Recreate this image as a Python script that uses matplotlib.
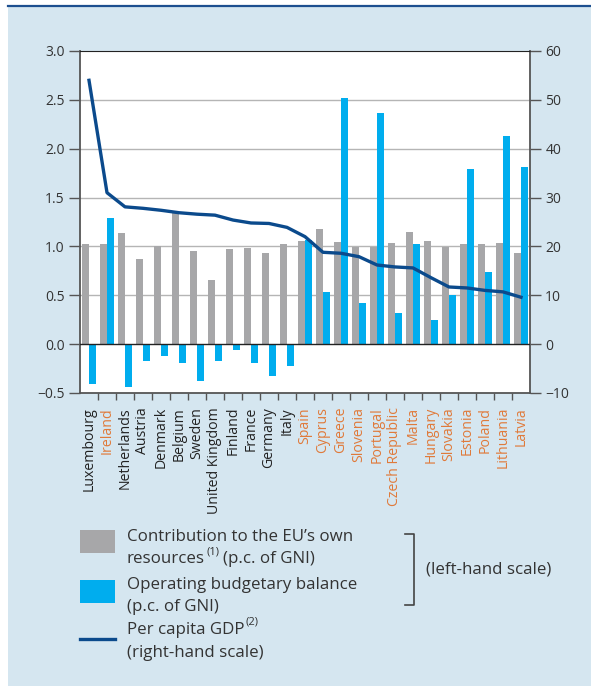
#!/usr/bin/env python3

import numpy as np
import matplotlib
matplotlib.use('Agg')
import matplotlib.pyplot as plt
from matplotlib.patches import Rectangle
from matplotlib.lines import Line2D

plt.rcParams['font.family'] = ['Open Sans', 'DejaVu Sans']

# data
countries = ['Luxembourg', 'Ireland', 'Netherlands', 'Austria', 'Denmark', 'Belgium',
             'Sweden', 'United Kingdom', 'Finland', 'France', 'Germany', 'Italy',
             'Spain', 'Cyprus', 'Greece', 'Slovenia', 'Portugal', 'Czech Republic',
             'Malta', 'Hungary', 'Slovakia', 'Estonia', 'Poland', 'Lithuania', 'Latvia']
contribution = [1.02, 1.02, 1.14, 0.87, 1.00, 1.34, 0.95, 0.66, 0.97, 0.98, 0.93, 1.02,
                1.06, 1.18, 1.05, 0.99, 0.99, 1.04, 1.15, 1.06, 0.99, 1.02, 1.02, 1.03, 0.93]
balance = [-0.41, 1.29, -0.44, -0.17, -0.12, -0.19, -0.38, -0.17, -0.06, -0.19, -0.33, -0.22,
           1.07, 0.53, 2.52, 0.42, 2.37, 0.32, 1.02, 0.25, 0.50, 1.79, 0.74, 2.13, 1.81]
gdp = [54.0, 31.0, 28.1, 27.8, 27.4, 26.9, 26.6, 26.4, 25.4, 24.8, 24.7, 23.9,
       22.0, 18.8, 18.6, 17.9, 16.2, 15.8, 15.6, 13.6, 11.7, 11.5, 11.0, 10.7, 9.6]
new_members = ['Ireland', 'Spain', 'Cyprus', 'Greece', 'Slovenia', 'Portugal',
               'Czech Republic', 'Malta', 'Hungary', 'Slovakia', 'Estonia', 'Poland',
               'Lithuania', 'Latvia']
left_ticks = [-0.5, 0.0, 0.5, 1.0, 1.5, 2.0, 2.5, 3.0]
right_ticks = [-10, 0, 10, 20, 30, 40, 50, 60]

GREY = '#a7a7a9'
BLUE = '#00adee'
NAVY = '#0b4a8c'
PANEL = '#d5e6f0'
ORANGE = '#e07a3a'
TXT = '#333333'
W, H = 591, 686

fig = plt.figure(figsize=(W / 100, H / 100), dpi=100)
fig.patch.set_facecolor('white')
# light blue panel with dark rule on top
fig.patches.append(Rectangle((8 / W, 0), 1 - 8 / W, 1 - 6 / H, transform=fig.transFigure,
                             facecolor=PANEL, edgecolor='none', zorder=-10))
fig.lines.append(Line2D([8 / W, 1], [1 - 6 / H, 1 - 6 / H], transform=fig.transFigure,
                        color='#1d4f8f', lw=1.6))

ax = fig.add_axes([80 / W, 1 - 393 / H, 450 / W, 342 / H])
ax.set_facecolor('white')
x = np.arange(len(countries))
bw = 0.39
ax.bar(x - bw / 2, contribution, bw, color=GREY, zorder=2)
ax.bar(x + bw / 2, balance, bw, color=BLUE, zorder=2)
ax.set_ylim(-0.5, 3.0)
ax.set_xlim(-0.5, len(countries) - 0.5)
ax.set_yticks(left_ticks)
ax.set_yticklabels([f'{v:.1f}'.replace('-', '\u2212') for v in left_ticks])
for v in left_ticks[2:-1]:
    ax.axhline(v, color='#b5b5b5', lw=1.0, zorder=1)
ax.axhline(0, color='#222222', lw=1.0, zorder=3)

ax.set_xticks(x)
ax.set_xticklabels(countries, rotation=90, fontsize=10.2)
ax.tick_params(axis='x', length=0, pad=10)
for lab, name in zip(ax.get_xticklabels(), countries):
    lab.set_color(ORANGE if name in new_members else '#222222')
ax.set_xticks(np.arange(len(countries) - 1) + 0.5, minor=True)
ax.tick_params(axis='x', which='minor', length=5, width=1, color='#555555', direction='out')
ax.tick_params(axis='y', length=8, width=1, color='#555555', labelsize=10, labelcolor=TXT, pad=3)

for s in ['left', 'right', 'bottom']:
    ax.spines[s].set_color('#555555')
    ax.spines[s].set_linewidth(1.3)
ax.spines['top'].set_color('#222222')
ax.spines['top'].set_linewidth(0.8)

ax2 = ax.twinx()
ax2.plot(x, gdp, color=NAVY, lw=2.4, zorder=5, solid_joinstyle='round')
ax2.set_ylim(-10, 60)
ax2.set_yticks(right_ticks)
ax2.tick_params(axis='y', length=8, width=1, color='#555555', labelsize=10, labelcolor=TXT, pad=3)
for s in ax2.spines.values():
    s.set_visible(False)

# legend drawn by hand
def fx(px):
    return px / W

def fy(py):
    return 1 - py / H

fig.patches.append(Rectangle((fx(80), fy(553)), fx(35), 23 / H, transform=fig.transFigure,
                             facecolor=GREY, edgecolor='none'))
fig.patches.append(Rectangle((fx(80), fy(603)), fx(35), 23 / H, transform=fig.transFigure,
                             facecolor=BLUE, edgecolor='none'))
fig.lines.append(Line2D([fx(80), fx(115)], [fy(639), fy(639)], transform=fig.transFigure,
                        color=NAVY, lw=2.4))

fs = 12.2
tx = fx(127)
fig.text(tx, fy(541), 'Contribution to the EU\u2019s own', fontsize=fs, color=TXT, va='baseline')
t_res = fig.text(tx, fy(563), 'resources', fontsize=fs, color=TXT, va='baseline')
fig.text(tx, fy(589), 'Operating budgetary balance', fontsize=fs, color=TXT, va='baseline')
fig.text(tx, fy(611), '(p.c. of GNI)', fontsize=fs, color=TXT, va='baseline')
t_gdp = fig.text(tx, fy(634), 'Per capita GDP', fontsize=fs, color=TXT, va='baseline')
fig.text(tx, fy(657), '(right-hand scale)', fontsize=fs, color=TXT, va='baseline')

fig.canvas.draw()
r = fig.canvas.get_renderer()
e1 = t_res.get_window_extent(r)
sup1 = fig.text(e1.x1 / W + 1 / W, fy(554), '(1)', fontsize=8, color=TXT, va='baseline')
fig.canvas.draw()
e1b = sup1.get_window_extent(r)
fig.text(e1b.x1 / W + 4 / W, fy(563), '(p.c. of GNI)', fontsize=fs, color=TXT, va='baseline')
e2 = t_gdp.get_window_extent(r)
fig.text(e2.x1 / W + 1 / W, fy(625), '(2)', fontsize=8, color=TXT, va='baseline')

# bracket for left-hand scale
bx = fx(414)
fig.lines.append(Line2D([fx(405), bx, bx, fx(405)], [fy(534), fy(534), fy(605), fy(605)],
                        transform=fig.transFigure, color='#444444', lw=1.2))
fig.text(fx(426), fy(569), '(left-hand scale)', fontsize=fs, color=TXT, va='center')

fig.savefig('out.png', dpi=100, facecolor=fig.get_facecolor())
